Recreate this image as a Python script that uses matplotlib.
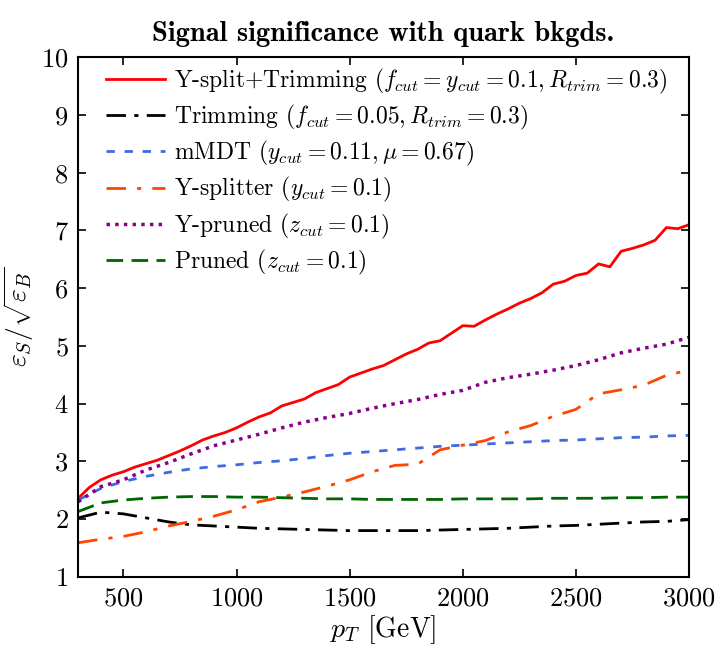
import numpy as np
import matplotlib.pyplot as plt

plt.rcParams['font.family'] = 'cmr10'
plt.rcParams['mathtext.fontset'] = 'cm'
plt.rcParams['axes.formatter.use_mathtext'] = True

# transverse momentum grid (GeV)
pt = [300, 400, 500, 600, 700, 800, 900, 1000, 1100, 1200, 1300, 1400, 1500, 1600,
      1700, 1800, 1900, 2000, 2100, 2200, 2300, 2400, 2500, 2600, 2700, 2800, 2900, 3000]
# finer grid used for the Y-split+Trimming curve
pt_fine = list(range(300, 3001, 50))

# significance eps_S / sqrt(eps_B) for each tagger
ysplit_trim = [2.36, 2.55, 2.68, 2.76, 2.82, 2.90, 2.96, 3.02, 3.10, 3.18, 3.27, 3.37, 3.44, 3.50,
               3.58, 3.68, 3.77, 3.84, 3.96, 4.02, 4.08, 4.19, 4.26, 4.33, 4.46, 4.53, 4.60, 4.66,
               4.76, 4.86, 4.94, 5.05, 5.09, 5.22, 5.35, 5.34, 5.45, 5.55, 5.64, 5.74, 5.82, 5.92,
               6.07, 6.12, 6.22, 6.26, 6.42, 6.37, 6.64, 6.69, 6.75, 6.83, 7.05, 7.03, 7.10]
trimming = [2.02, 2.12, 2.09, 2.02, 1.95, 1.90, 1.88, 1.86, 1.84, 1.83, 1.82, 1.81, 1.80, 1.80,
            1.80, 1.80, 1.81, 1.82, 1.83, 1.84, 1.86, 1.88, 1.89, 1.91, 1.93, 1.95, 1.96, 1.99]
mmdt = [2.33, 2.53, 2.65, 2.74, 2.81, 2.87, 2.91, 2.94, 2.98, 3.01, 3.05, 3.10, 3.14, 3.17,
        3.20, 3.23, 3.26, 3.28, 3.30, 3.32, 3.34, 3.36, 3.37, 3.39, 3.41, 3.42, 3.44, 3.45]
ysplitter = [1.59, 1.65, 1.70, 1.78, 1.88, 1.96, 2.05, 2.16, 2.30, 2.38, 2.47, 2.57, 2.68, 2.82,
             2.93, 2.95, 3.20, 3.28, 3.36, 3.51, 3.62, 3.78, 3.90, 4.17, 4.24, 4.32, 4.49, 4.58]
ypruned = [2.30, 2.56, 2.68, 2.85, 2.98, 3.13, 3.27, 3.37, 3.47, 3.58, 3.68, 3.76, 3.83, 3.92,
           4.00, 4.07, 4.16, 4.23, 4.37, 4.45, 4.51, 4.58, 4.66, 4.76, 4.88, 4.96, 5.03, 5.15]
pruned = [2.13, 2.28, 2.33, 2.36, 2.38, 2.39, 2.39, 2.38, 2.38, 2.37, 2.36, 2.35, 2.35, 2.34,
          2.34, 2.34, 2.34, 2.35, 2.35, 2.35, 2.35, 2.36, 2.36, 2.36, 2.37, 2.37, 2.38, 2.38]

fig = plt.figure(figsize=(7.17, 6.51), dpi=100)
ax = fig.add_axes([0.109, 0.114, 0.852, 0.798])

ax.plot(pt_fine, ysplit_trim, color='red', lw=2,
        label=r'Y-split+Trimming ($f_{cut}=y_{cut}=0.1, R_{trim}=0.3$)')
ax.plot(pt, trimming, color='black', lw=2, dashes=(7, 3, 1.5, 3),
        label=r'Trimming ($f_{cut}=0.05, R_{trim}=0.3$)')
ax.plot(pt, mmdt, color='royalblue', lw=2, dashes=(3, 3.5),
        label=r'mMDT ($y_{cut}=0.11, \mu=0.67$)')
ax.plot(pt, ysplitter, color='orangered', lw=2, dashes=(7, 4, 1.5, 4),
        label=r'Y-splitter ($y_{cut}=0.1$)')
ax.plot(pt, ypruned, color='darkmagenta', lw=2.5, dashes=(1, 1.5),
        label=r'Y-pruned ($z_{cut}=0.1$)')
ax.plot(pt, pruned, color='darkgreen', lw=2, dashes=(6, 3),
        label=r'Pruned ($z_{cut}=0.1$)')

ax.set_xlim(300, 3000)
ax.set_ylim(1, 10)
ax.set_xticks([500, 1000, 1500, 2000, 2500, 3000])
ax.set_yticks(range(1, 11))
ax.tick_params(direction='in', top=True, right=True, length=6, width=1.2,
               labelsize=19, pad=7)
for s in ax.spines.values():
    s.set_linewidth(1.5)

ax.set_xlabel(r'$p_T$ [GeV]', fontsize=20, labelpad=2)
ax.set_ylabel(r'$\varepsilon_S/\sqrt{\varepsilon_B}$', fontsize=20)
ax.set_title('Signal significance with quark bkgds.', fontfamily='cmb10', fontsize=20.5, pad=12)

ax.legend(loc='upper left', bbox_to_anchor=(0.03, 1.0), frameon=False, fontsize=17,
          handlelength=2.5, handletextpad=0.4, labelspacing=0.3, borderaxespad=0.0)

fig.savefig('out.png', dpi=100)
